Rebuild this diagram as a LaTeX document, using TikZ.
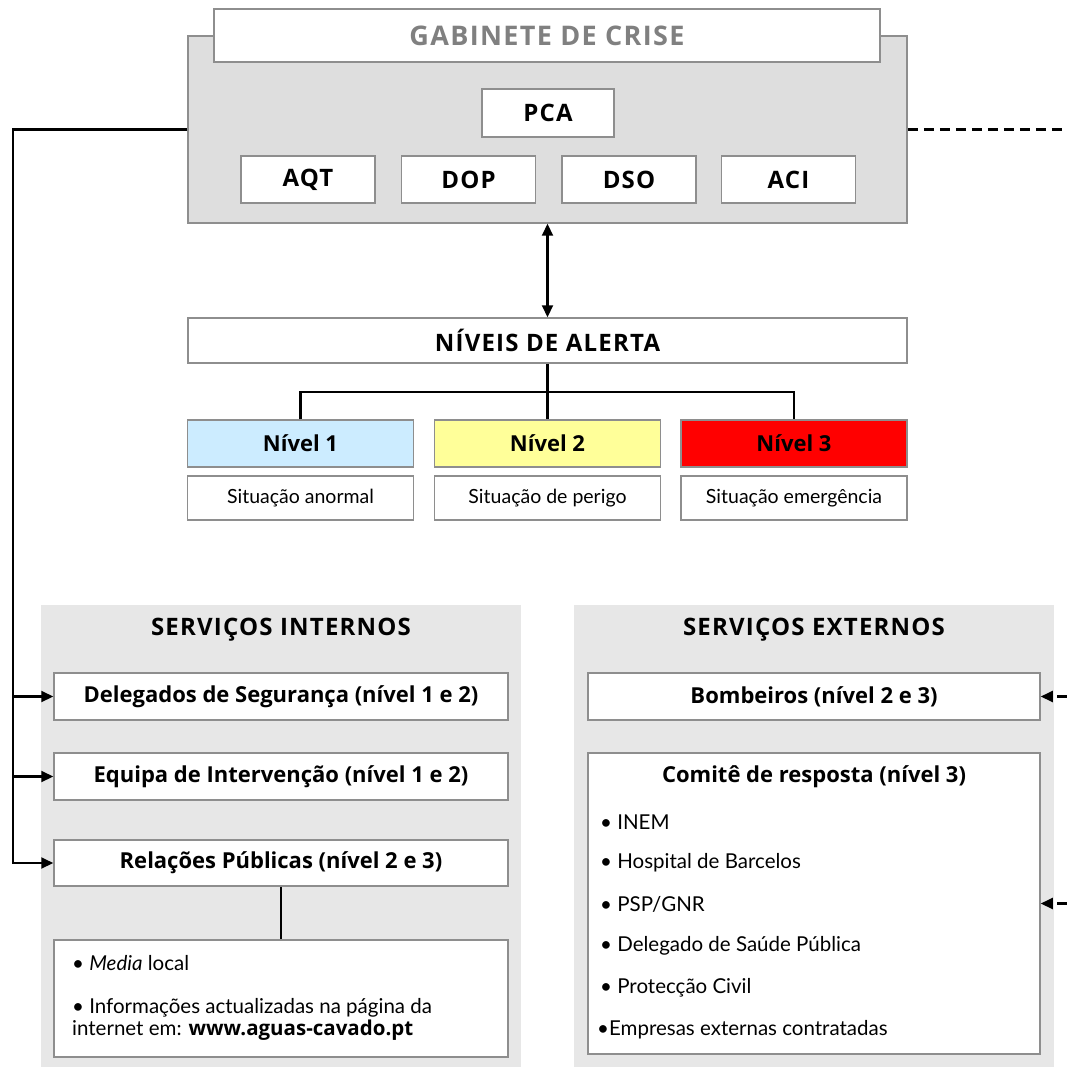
\documentclass[tikz,border=0pt]{standalone}
\usepackage{fontspec}
\setmainfont{Lato}
\newfontfamily\headfont{Open Sans}
\newfontfamily\capsfont{Open Sans}[LetterSpace=5]
\usetikzlibrary{arrows.meta}

\definecolor{edgegray}{HTML}{8E8E8E}
\definecolor{crisegray}{HTML}{DEDEDE}
\definecolor{servgray}{HTML}{E7E7E7}
\definecolor{titlegray}{HTML}{808080}
\definecolor{lvlone}{HTML}{CCECFF}
\definecolor{lvltwo}{HTML}{FFFF99}
\definecolor{lvlthree}{HTML}{FF0000}

\tikzset{
  box/.style={draw=edgegray, fill=white, line width=1.5pt, inner sep=0pt},
  bigtitle/.style={font=\capsfont\fontsize{27}{32}\selectfont\bfseries},
  capstxt/.style={font=\capsfont\fontsize{24}{28}\selectfont\bfseries},
  boldtxt/.style={font=\headfont\fontsize{22}{26}\selectfont\bfseries},
  plaintxt/.style={font=\fontsize{19.5}{23}\selectfont},
  listtxt/.style={font=\fontsize{20.5}{24}\selectfont, anchor=west, inner sep=0pt},
  conn/.style={line width=2.1pt, black},
  dashline/.style={dash pattern=on 10pt off 6pt},
  tip/.style={-{Triangle[length=12pt, width=11pt]}},
  twotip/.style={{Triangle[length=12pt, width=11pt]}-{Triangle[length=12pt, width=11pt]}}
}

\begin{document}
\begin{tikzpicture}[x=1pt, y=-1pt]
\useasboundingbox (0,0) rectangle (1067,1067);

% crisis office
\node[draw=edgegray, fill=crisegray, line width=1.5pt, inner sep=0pt,
      minimum width=719, minimum height=187] (gab) at (547.5,129.5) {};
\node[box, minimum width=666, minimum height=53, bigtitle, text=titlegray]
      (gabtitle) at (547,35.5) {GABINETE DE CRISE};
\node[box, minimum width=132, minimum height=48, capstxt] (pca) at (548,113) {PCA};
\node[box, minimum width=134, minimum height=47, capstxt] (aqt) at (308,179.5) {AQT};
\node[box, minimum width=134, minimum height=47, capstxt] (dop) at (468.5,179.5) {DOP};
\node[box, minimum width=134, minimum height=47, capstxt] (dso) at (629,179.5) {DSO};
\node[box, minimum width=134, minimum height=47, capstxt] (aci) at (788.5,179.5) {ACI};

% alert levels
\node[box, minimum width=719, minimum height=45, capstxt] (alert) at (547.5,340.5) {NÍVEIS DE ALERTA};
\node[box, fill=lvlone, minimum width=226, minimum height=47, boldtxt] (n1) at (300.5,443.5) {Nível 1};
\node[box, fill=lvltwo, minimum width=226, minimum height=47, boldtxt] (n2) at (547.5,443.5) {Nível 2};
\node[box, fill=lvlthree, minimum width=226, minimum height=47, boldtxt] (n3) at (794,443.5) {Nível 3};
\node[box, minimum width=226, minimum height=44, plaintxt] (s1) at (300.5,498) {Situação anormal};
\node[box, minimum width=226, minimum height=44, plaintxt] (s2) at (547.5,498) {Situação de perigo};
\node[box, minimum width=226, minimum height=44, plaintxt] (s3) at (794,498) {Situação emergência};

% internal services
\fill[servgray] (41,605) rectangle (521,1067);
\node[capstxt] (inttitle) at (281,630) {SERVIÇOS INTERNOS};
\node[box, minimum width=454, minimum height=47, boldtxt] (deleg) at (281,696.5) {Delegados de Segurança (nível 1 e 2)};
\node[box, minimum width=454, minimum height=47, boldtxt] (equipa) at (281,776.5) {Equipa de Intervenção (nível 1 e 2)};
\node[box, minimum width=454, minimum height=46, boldtxt] (rel) at (281,863) {Relações Públicas (nível 2 e 3)};
\node[box, minimum width=454, minimum height=117] (media) at (281,998.5) {};
\node[listtxt] (m1) at (72,963) {• \textit{Media} local};
\node[listtxt] (m2) at (72,1008) {• Informações actualizadas na página da};
\node[listtxt] (m3) at (72,1030) {internet em: {\headfont\bfseries www.aguas-cavado.pt}};

% external services
\fill[servgray] (574,605) rectangle (1054,1067);
\node[capstxt] (exttitle) at (814,630) {SERVIÇOS EXTERNOS};
\node[box, minimum width=452, minimum height=47, boldtxt] (bomb) at (814,696.5) {Bombeiros (nível 2 e 3)};
\node[box, minimum width=452, minimum height=301] (comite) at (814,903.5) {};
\node[boldtxt] (comtitle) at (814,777) {Comitê de resposta (nível 3)};
\node[listtxt] (c1) at (600,822) {• INEM};
\node[listtxt] (c2) at (600,863) {• Hospital de Barcelos};
\node[listtxt] (c3) at (600,904) {• PSP/GNR};
\node[listtxt] (c4) at (600,946) {• Delegado de Saúde Pública};
\node[listtxt] (c5) at (600,988) {• Protecção Civil};
\node[listtxt] (c6) at (597,1030) {•Empresas externas contratadas};

% connectors
\coordinate (bus) at (13,500);
\coordinate (br) at (547.5,392);
\coordinate (edge) at (1067,0);

\draw[conn, twotip] (gab.south) -- (alert.north);
\draw[conn] (alert.south) -- (br);
\draw[conn] (n1.north) |- (br) -| (n3.north);
\draw[conn] (br) -- (n2.north);

\draw[conn, tip] (gab.west) -| (bus) |- (rel.west);
\draw[conn, tip] (deleg.west -| bus) -- (deleg.west);
\draw[conn, tip] (equipa.west -| bus) -- (equipa.west);
\draw[conn] (rel.south) -- (media.north);

\draw[conn, dashline] (gab.east) -- (gab.east -| edge);
\draw[conn, dashline, tip] (bomb.east -| edge) -- (bomb.east);
\draw[conn, dashline, tip] (comite.east -| edge) -- (comite.east);
\end{tikzpicture}
\end{document}
